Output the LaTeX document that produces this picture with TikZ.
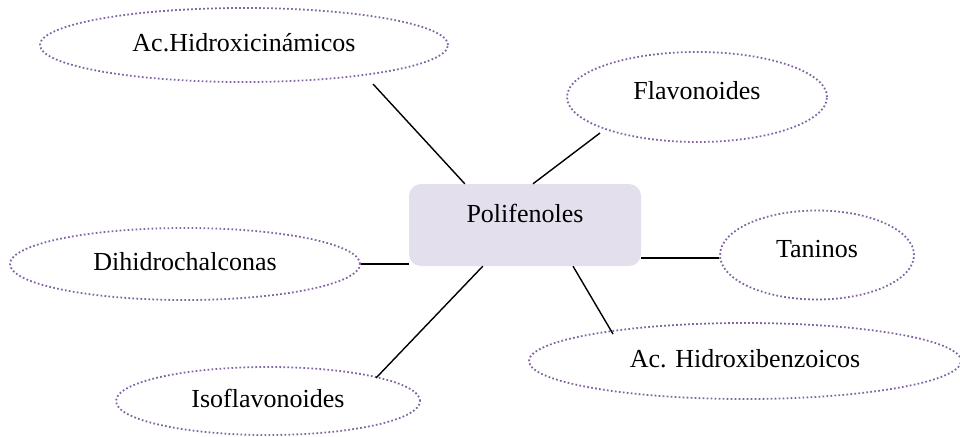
\documentclass[tikz,border=0pt]{standalone}
\usepackage{fontspec}
\setmainfont{Liberation Serif}
\usetikzlibrary{shapes.geometric}
\definecolor{ovalline}{HTML}{8064A2}
\definecolor{hubfill}{HTML}{E4DFEC}
\begin{document}
\begin{tikzpicture}[x=1pt, y=-1pt, every node/.style={font=\fontsize{26}{31}\selectfont}]
  \tikzstyle{oval}=[ellipse,draw=ovalline,line width=1.8pt,dash pattern=on 1.7pt off 2.3pt,inner sep=0pt,text height=1.3em,text depth=0pt]
  \tikzstyle{raised}=[text height=0.7em,text depth=0.2em]
  \tikzstyle{hub}=[fill=hubfill,rounded corners=12pt,minimum width=232pt,minimum height=82pt,inner sep=0pt,text height=6pt,text depth=12pt]
  \tikzstyle{link}=[line width=1.4pt]
  \useasboundingbox (0,0) rectangle (960,436);
  \node[hub] (poli) at (525,225) {Polifenoles};
  \node[oval,minimum width=408pt,minimum height=74pt] (hc) at (244,45) {Ac.Hidroxicinámicos};
  \node[oval,raised,minimum width=260pt,minimum height=90pt] (fl) at (697,97) {Flavonoides};
  \node[oval,raised,minimum width=194pt,minimum height=89pt] (tan) at (817,255) {Taninos};
  \node[oval,minimum width=350pt,minimum height=72pt] (dh) at (185,264) {Dihidrochalconas};
  \node[oval,minimum width=304pt,minimum height=68pt] (iso) at (268,401) {Isoflavonoides};
  \node[oval,minimum width=432pt,minimum height=76pt] (hb) at (745,361) {Ac. Hidroxibenzoicos};
  \draw[link] ([shift={(129,39)}]hc.center) -- ([xshift=56pt]poli.north west);
  \draw[link] ([shift={(-97,36)}]fl.center) -- ([xshift=8pt]poli.north);
  \draw[link] ([shift={(0,3)}]tan.west) -- ([shift={(0,33)}]poli.east);
  \draw[link] (dh.east) -- ([shift={(0,39)}]poli.west);
  \draw[link] ([shift={(108,-23)}]iso.center) -- ([xshift=74pt]poli.south west);
  \draw[link] ([shift={(-132,-27)}]hb.center) -- ([xshift=48pt]poli.south);
\end{tikzpicture}
\end{document}
